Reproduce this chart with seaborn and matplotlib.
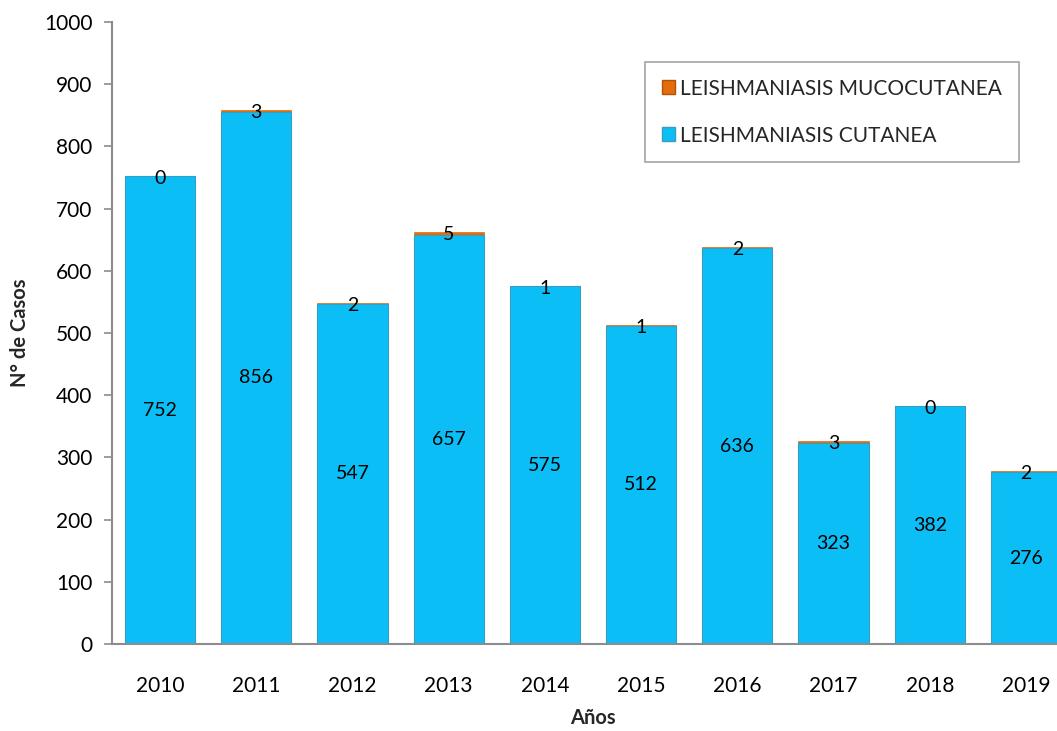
import matplotlib
matplotlib.use("Agg")
import matplotlib.pyplot as plt
import seaborn as sns
import pandas as pd
from matplotlib.patches import Patch

# datos
anios = ["2010", "2011", "2012", "2013", "2014", "2015", "2016", "2017", "2018", "2019"]
cutanea = [752, 856, 547, 657, 575, 512, 636, 323, 382, 276]
mucocutanea = [0, 3, 2, 5, 1, 1, 2, 3, 0, 2]

AZUL = "#0BBEF5"
NARANJA = "#E46C0A"
GRIS = "#8C8C8C"


def main():
    sns.set_theme(style="white")
    plt.rcParams["font.family"] = ["Lato", "DejaVu Sans"]

    df = pd.DataFrame({"anio": anios, "cutanea": cutanea, "mucocutanea": mucocutanea})
    df["total"] = df["cutanea"] + df["mucocutanea"]

    fig = plt.figure(figsize=(10.57, 7.31), dpi=100)
    ax = fig.add_axes([112 / 1057, 1 - 644 / 731, 962 / 1057, 622 / 731])

    # barras apiladas: total en naranja y cutanea encima
    sns.barplot(data=df, x="anio", y="total", color=NARANJA, width=0.73,
                saturation=1, ax=ax, edgecolor=NARANJA, linewidth=0.5)
    sns.barplot(data=df, x="anio", y="cutanea", color=AZUL, width=0.73,
                saturation=1, ax=ax, edgecolor="#3A9CC0", linewidth=0.8)

    for i, row in df.iterrows():
        ax.text(i, row["cutanea"] / 2, str(row["cutanea"]), ha="center", va="center",
                fontsize=14, color="black")
        ax.text(i, row["total"] - 4, str(row["mucocutanea"]), ha="center", va="center",
                fontsize=14, color="black")

    ax.set_xlim(-0.5, 9.5)
    ax.set_ylim(0, 1000)
    ax.set_yticks(range(0, 1001, 100))
    ax.tick_params(axis="y", which="both", left=True, length=6, width=1.2, color=GRIS,
                   labelsize=15, pad=8, labelcolor="black")
    ax.tick_params(axis="x", bottom=False, labelsize=15, pad=17, labelcolor="black")

    for lado in ["top", "right"]:
        ax.spines[lado].set_visible(False)
    for lado in ["left", "bottom"]:
        ax.spines[lado].set_color(GRIS)
        ax.spines[lado].set_linewidth(1.5)

    ax.set_xlabel("Años", fontsize=14.5, fontweight="bold", labelpad=9)
    ax.set_ylabel("N° de Casos", fontsize=14.5, fontweight="bold", labelpad=10)

    handles = [Patch(facecolor=NARANJA, edgecolor="#B05208", label="LEISHMANIASIS MUCOCUTANEA"),
               Patch(facecolor=AZUL, edgecolor="#3A9CC0", label="LEISHMANIASIS CUTANEA")]
    leg = fig.legend(handles=handles, loc="upper right", bbox_to_anchor=(1019 / 1057, 1 - 62 / 731),
                     fontsize=15, frameon=True, fancybox=False, labelspacing=1.3,
                     handlelength=0.65, handleheight=0.65, handletextpad=0.25,
                     borderpad=0.8, borderaxespad=0)
    leg.get_frame().set_edgecolor(GRIS)
    leg.get_frame().set_linewidth(1.2)

    fig.savefig("out.png", dpi=100)


if __name__ == "__main__":
    main()
